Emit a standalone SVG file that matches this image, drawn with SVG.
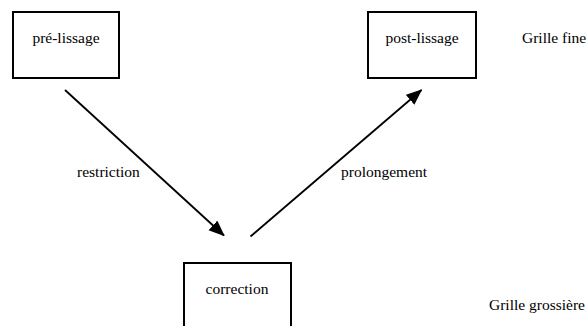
<svg xmlns="http://www.w3.org/2000/svg" width="587" height="326" viewBox="0 0 587 326">
<style>
.box{fill:#fff;stroke:#000;stroke-width:2}
text{font-family:'Liberation Serif','Times New Roman',Times,serif;font-size:15.5px;fill:#000}
.c{text-anchor:middle}
.edge{stroke:#000;stroke-width:1.8;fill:none}
</style>
<defs>
<marker id="ah" markerWidth="16" markerHeight="14" refX="15" refY="6.5" orient="auto" markerUnits="userSpaceOnUse">
<path d="M0,0 L16,6.5 L0,13 z" fill="#000"/>
</marker>
</defs>
<rect width="587" height="326" fill="#fff"/>
<g id="pre-lissage"><rect class="box" x="13" y="12" width="106" height="66"/><text class="c" x="66" y="43">pré-lissage</text></g>
<g id="post-lissage"><rect class="box" x="368" y="12" width="108" height="66"/><text class="c" x="422" y="43">post-lissage</text></g>
<g id="correction"><rect class="box" x="184" y="263" width="107" height="70"/><text class="c" x="237" y="294">correction</text></g>
<g id="labels">
<text x="522" y="43">Grille fine</text>
<text x="489" y="310">Grille grossière</text>
</g>
<g id="connectors">
<line class="edge" x1="65" y1="90" x2="224" y2="235.5" marker-end="url(#ah)"/>
<line class="edge" x1="250.5" y1="236.5" x2="421.5" y2="90" marker-end="url(#ah)"/>
<text x="77" y="177">restriction</text>
<text x="341" y="177">prolongement</text>
</g>
</svg>
